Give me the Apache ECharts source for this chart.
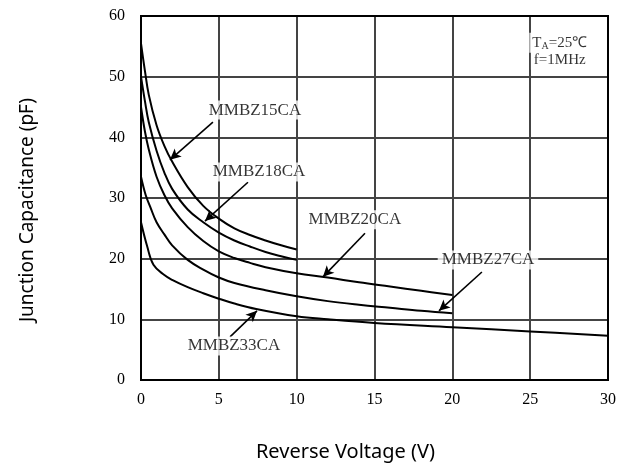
<!DOCTYPE html>
<html>
<head>
<meta charset="utf-8">
<script src="https://cdn.jsdelivr.net/npm/echarts@6/dist/echarts.min.js"></script>
<style>html,body{margin:0;padding:0;background:#fff}#c{width:632px;height:468px}</style>
</head>
<body>
<div id="c"></div>
<script>
// ---- data ----
const xTicks = [0, 5, 10, 15, 20, 25, 30];
const yTicks = [0, 10, 20, 30, 40, 50, 60];

const v15 = [0, 0.25, 0.5, 1, 1.5, 2, 3, 4, 5, 6, 7, 8, 9, 10];
const c15 = [55.5, 51, 47, 42, 38.6, 36, 31.8, 28.7, 26.6, 25, 23.9, 23, 22.2, 21.5];

const v18 = [0, 0.25, 0.5, 1, 1.5, 2, 3, 4, 5, 6, 7, 8, 9, 10];
const c18 = [50, 46, 42.5, 37.8, 34.2, 31.5, 28.1, 26, 24.3, 23, 22, 21.1, 20.4, 19.8];

const v20 = [0, 0.25, 0.5, 1, 1.5, 2, 3, 4, 5, 6, 7, 8, 10, 12, 14, 16, 18, 20];
const c20 = [45, 41, 38, 33.5, 30.5, 28.3, 25.2, 22.9, 21.2, 20.1, 19.3, 18.6, 17.6, 16.9, 16.1, 15.4, 14.7, 14.0];

const v27 = [0, 0.3, 0.6, 1, 1.5, 2, 3, 4, 5, 6, 8, 10, 12, 14, 16, 18, 20];
const c27 = [33.5, 30.5, 28.5, 26, 24, 22.2, 19.8, 18.2, 16.9, 16, 14.8, 13.8, 13, 12.4, 11.9, 11.4, 11.0];

const v33 = [0, 0.4, 0.8, 1.5, 2, 3, 4, 5, 6, 7.4, 10, 12, 15, 20, 25, 30];
const c33 = [26, 22, 19, 17.3, 16.5, 15.3, 14.3, 13.4, 12.6, 11.7, 10.5, 10.0, 9.4, 8.7, 8, 7.3];

const labelNames = ['MMBZ15CA', 'MMBZ18CA', 'MMBZ20CA', 'MMBZ27CA', 'MMBZ33CA'];
const labelPos = [[7.32, 44.5], [7.58, 34.3], [13.74, 26.4], [22.29, 19.8], [5.97, 5.6]];
const arrowFrom = [[4.62, 42.5], [6.87, 32.6], [14.39, 24.2], [21.9, 17.8], [5.72, 7.1]];
const arrowTo = [[1.86, 36.3], [4.11, 26.2], [11.69, 17.0], [19.14, 11.4], [7.45, 11.4]];

const condPos = [[26.9, 55.6], [26.9, 52.8]];

// ---- build ----
const zip = (a, b) => a.map((x, i) => [x, b[i]]);
const curves = [[v15, c15], [v18, c18], [v20, c20], [v27, c27], [v33, c33]];
const serif = 'Liberation Serif';

const lineSeries = curves.map((c, i) => ({
  type: 'line', name: labelNames[i], data: zip(c[0], c[1]), smooth: 0.4,
  symbol: 'none', lineStyle: { color: '#000', width: 2 }, z: 3, silent: true
}));

const arrowSeries = {
  type: 'line', data: [], silent: true, z: 4,
  markLine: {
    silent: true, symbol: ['none', 'arrow'], symbolSize: [8, 11],
    label: { show: false },
    lineStyle: { color: '#000', width: 1.6, type: 'solid' },
    data: arrowFrom.map((f, i) => [{ coord: f }, { coord: arrowTo[i] }])
  }
};

const labelSeries = {
  type: 'scatter', symbolSize: 0, z: 5, silent: true,
  data: labelPos.map((p, i) => ({ value: p, name: labelNames[i] })),
  label: {
    show: true, position: 'inside', formatter: '{b}',
    fontFamily: serif, fontSize: 17, color: '#000',
    backgroundColor: '#fff', padding: [1, 4]
  }
};

const condSeries = {
  type: 'scatter', symbolSize: 0, z: 5, silent: true,
  data: [
    { value: condPos[0], label: { formatter: '{a|T}{s|A}{a|=25℃}' } },
    { value: condPos[1], label: { formatter: '{a|f=1MHz}' } }
  ],
  label: {
    show: true, position: 'inside', backgroundColor: '#fff', padding: [1, 3],
    rich: {
      a: { fontFamily: serif, fontSize: 15, color: '#000', lineHeight: 18 },
      s: { fontFamily: serif, fontSize: 10, color: '#000', lineHeight: 18, verticalAlign: 'bottom', padding: [8, 0, 0, 0] }
    }
  }
};

const chart = echarts.init(document.getElementById('c'));
chart.setOption({
  animation: false,
  backgroundColor: '#fff',
  grid: { left: 141, right: 24, top: 16, bottom: 88, show: true, borderColor: '#000', borderWidth: 2, z: 1 },
  xAxis: {
    type: 'value', min: xTicks[0], max: xTicks[xTicks.length - 1], interval: 5,
    name: 'Reverse Voltage (V)', nameLocation: 'middle', nameGap: 62,
    nameTextStyle: { fontFamily: 'Noto Sans', fontSize: 20, color: '#000', padding: [0, 58, 0, 0] },
    axisLine: { show: true, lineStyle: { color: '#000', width: 2 } },
    axisTick: { show: false },
    axisLabel: { fontFamily: serif, fontSize: 16, color: '#000', margin: 12 },
    splitLine: { show: true, lineStyle: { color: '#444', width: 2 } }
  },
  yAxis: {
    type: 'value', min: yTicks[0], max: yTicks[yTicks.length - 1], interval: 10,
    name: 'Junction Capacitance (pF)', nameLocation: 'middle', nameGap: 104,
    nameTextStyle: { fontFamily: 'Noto Sans', fontSize: 19, color: '#000', padding: [0, 24, 0, 0] },
    axisLine: { show: true, lineStyle: { color: '#000', width: 2 } },
    axisTick: { show: false },
    axisLabel: { fontFamily: serif, fontSize: 16, color: '#000', margin: 16 },
    splitLine: { show: true, lineStyle: { color: '#444', width: 2 } }
  },
  series: [...lineSeries, arrowSeries, labelSeries, condSeries]
});
</script>
</body>
</html>
